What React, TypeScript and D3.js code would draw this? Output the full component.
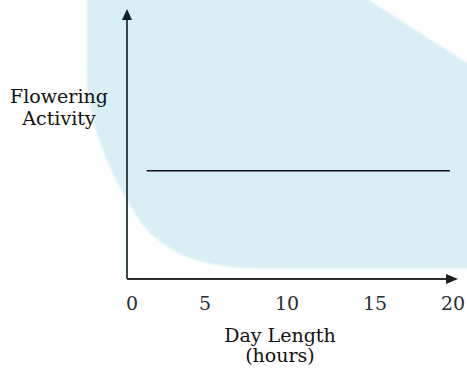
import React from "react";
import * as d3 from "d3";

const xTicks = [0, 5, 10, 15, 20];
const tickLabels = ["0", "5", "10", "15", "20"];
const lineX = [1, 19.8];
const lineY = [40.5, 40.5];
const yLabel = ["Flowering", "Activity"];
const xLabel = ["Day Length", "(hours)"];

const W = 467;
const H = 368;

export default function App() {
  const x = d3.scaleLinear().domain(xTicks).range([132, 205, 287, 375, 453]);
  const y = d3.scaleLinear().domain([0, 100]).range([279, 12]);
  const ax0 = 127;
  const ay0 = 279;

  const pts: [number, number][] = lineX.map((v, i) => [x(v), y(lineY[i])]);
  const line = d3.line()(pts) || "";

  const blobPts: [number, number][] = [
    [87, -10], [87, 40], [88, 95], [97, 133], [110, 167], [127, 200],
    [150, 233], [187, 257], [233, 267], [280, 268.5], [480, 268.5],
  ];
  const blobEdge = d3.line().curve(d3.curveCatmullRom.alpha(0.5))(blobPts) || "";
  const blob = blobEdge + "L480,280 L480,60 L467,63 L353,-10 Z";

  const font = "'DejaVu Serif', serif";
  const col = "#2a2f31";

  return (
    <svg width={W} height={H} style={{ position: "absolute", left: 0, top: 0 }}>
      <defs>
        <filter id="soft" x="-10%" y="-10%" width="120%" height="120%">
          <feGaussianBlur stdDeviation="1.2" />
        </filter>
      </defs>
      <rect width={W} height={H} fill="#fff" />
      <path d={blob} fill="#d8eff5" filter="url(#soft)" />
      {/* axes */}
      <line x1={ax0} y1={ay0} x2={ax0} y2={20} stroke="#37474c" strokeWidth={2} />
      <path d={`M${ax0},9 L${ax0 - 5},20 L${ax0 + 5},20 Z`} fill="#12202a" />
      <line x1={ax0} y1={ay0} x2={448} y2={ay0} stroke="#2c2c2c" strokeWidth={2} />
      <path d={`M458,${ay0} L446,${ay0 - 5} L446,${ay0 + 5} Z`} fill="#1f1f1f" />
      <path d={line} stroke="#111" strokeWidth={1.5} fill="none" />
      {xTicks.map((t, i) => (
        <text key={t} x={x(t)} y={310} textAnchor="middle" fontFamily={font} fontSize={19} fill={col}>
          {tickLabels[i]}
        </text>
      ))}
      <text textAnchor="middle" fontFamily={font} fontSize={19} fill="#111">
        {yLabel.map((s, i) => (
          <tspan key={s} x={59} y={103 + i * 22}>{s}</tspan>
        ))}
      </text>
      <text textAnchor="middle" fontFamily={font} fontSize={19} fill="#111">
        {xLabel.map((s, i) => (
          <tspan key={s} x={280} y={342 + i * 20}>{s}</tspan>
        ))}
      </text>
    </svg>
  );
}
